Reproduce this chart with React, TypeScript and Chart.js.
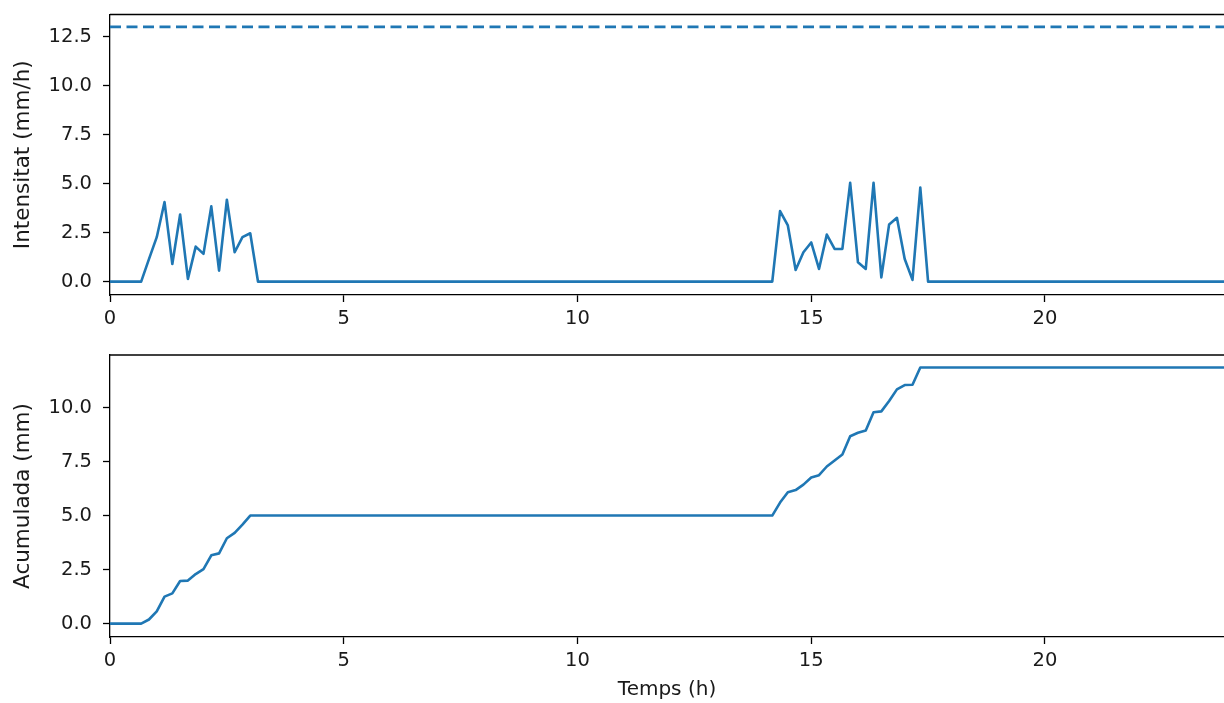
import React, { useEffect, useRef } from "react";
import { Chart, registerables } from "chart.js";

Chart.register(...registerables);

// Time in minutes since 00:00 (breakpoints of the 10-minute series)
const timeMinutes = [
  0, 40, 50, 60, 70, 80, 90, 100, 110, 120, 130, 140, 150, 160, 170, 180, 190,
  850, 860, 870, 880, 890, 900, 910, 920, 930, 940, 950, 960, 970, 980, 990, 1000, 1010, 1020, 1030, 1040, 1050,
  1440,
];

// Intensity (mm/h)
const intensityValues = [
  0, 0, 1.15, 2.27, 4.06, 0.9, 3.43, 0.14, 1.79, 1.42, 3.84, 0.56, 4.18, 1.5, 2.27, 2.47, 0,
  0, 3.6, 2.87, 0.6, 1.5, 2.0, 0.65, 2.4, 1.67, 1.67, 5.04, 0.99, 0.65, 5.04, 0.22, 2.92, 3.26, 1.16, 0.09, 4.8, 0,
  0,
];

// Accumulated rainfall (mm)
const accumulatedValues = [
  0, 0, 0.19, 0.57, 1.25, 1.4, 1.97, 1.99, 2.29, 2.52, 3.16, 3.25, 3.95, 4.2, 4.58, 5.0, 5.0,
  5.0, 5.6, 6.08, 6.18, 6.43, 6.76, 6.87, 7.27, 7.55, 7.83, 8.67, 8.83, 8.94, 9.78, 9.82, 10.3, 10.84, 11.04, 11.05, 11.85, 11.85,
  11.85,
];

// Threshold line (mm/h)
const thresholdTimes = [0, 24];
const thresholdValues = [13, 13];

const xTicks = [0, 5, 10, 15, 20];
const intensityTicks = [0, 2.5, 5, 7.5, 10, 12.5];
const accumulatedTicks = [0, 2.5, 5, 7.5, 10];

const BLUE = "#1f77b4";
const TICK_FONT = { family: "'DejaVu Sans', sans-serif", size: 19.5 };
const XLABEL_FONT = { family: "'DejaVu Sans', sans-serif", size: 20 };
const YLABEL_FONT = { family: "'DejaVu Sans', sans-serif", size: 21.5 };
const TEXT = "#1a1a1a";

const frameTop = {
  id: "frameTop",
  afterDraw(chart: any) {
    const { ctx, chartArea } = chart;
    ctx.save();
    ctx.strokeStyle = "#000";
    ctx.lineWidth = 1.3;
    ctx.beginPath();
    ctx.moveTo(chartArea.left, chartArea.top);
    ctx.lineTo(chartArea.right, chartArea.top);
    ctx.stroke();
    ctx.restore();
  },
};

function makeOptions(opts: {
  yMin: number;
  yMax: number;
  yTicks: number[];
  yTitle: string;
  xTitle?: string;
  xAxisHeight: number;
  padTop: number;
}) {
  return {
    responsive: false,
    animation: false as const,
    layout: { padding: { top: opts.padTop, left: 0, right: 0, bottom: 0 } },
    plugins: { legend: { display: false }, tooltip: { enabled: false } },
    scales: {
      x: {
        type: "linear" as const,
        min: 0,
        max: 23.83,
        afterBuildTicks: (scale: any) => {
          scale.ticks = xTicks.map((v) => ({ value: v }));
        },
        afterFit: (scale: any) => {
          scale.height = opts.xAxisHeight;
          scale.paddingLeft = 0;
          scale.paddingRight = 0;
        },
        grid: {
          display: true,
          drawOnChartArea: false,
          drawTicks: true,
          tickLength: 7,
          tickWidth: 1.3,
          tickColor: "#000",
        },
        border: { display: true, color: "#000", width: 1.3 },
        ticks: {
          color: TEXT,
          font: TICK_FONT,
          padding: 5,
          maxRotation: 0,
          callback: (v: any) => String(v),
        },
        title: opts.xTitle
          ? { display: true, text: opts.xTitle, color: TEXT, font: XLABEL_FONT, padding: { top: 0, bottom: 1 } }
          : { display: false },
      },
      y: {
        type: "linear" as const,
        min: opts.yMin,
        max: opts.yMax,
        afterBuildTicks: (scale: any) => {
          scale.ticks = opts.yTicks.map((v) => ({ value: v }));
        },
        afterFit: (scale: any) => {
          scale.width = 110;
          scale.paddingTop = 0;
          scale.paddingBottom = 0;
        },
        grid: {
          display: true,
          drawOnChartArea: false,
          drawTicks: true,
          tickLength: 7,
          tickWidth: 1.3,
          tickColor: "#000",
        },
        border: { display: true, color: "#000", width: 1.3 },
        ticks: {
          color: TEXT,
          font: TICK_FONT,
          padding: 11,
          callback: (v: any) => Number(v).toFixed(1),
        },
        title: { display: true, text: opts.yTitle, color: TEXT, font: YLABEL_FONT, padding: { top: 11, bottom: 0 } },
      },
    },
  };
}

export default function App() {
  const topRef = useRef<HTMLCanvasElement>(null);
  const botRef = useRef<HTMLCanvasElement>(null);

  useEffect(() => {
    const intensityData = timeMinutes.map((t, i) => ({ x: t / 60, y: intensityValues[i] }));
    const accumulatedData = timeMinutes.map((t, i) => ({ x: t / 60, y: accumulatedValues[i] }));
    const thresholdData = thresholdTimes.map((t, i) => ({ x: t, y: thresholdValues[i] }));

    const top = new Chart(topRef.current as HTMLCanvasElement, {
      type: "line",
      data: {
        datasets: [
          {
            data: intensityData,
            borderColor: BLUE,
            borderWidth: 2.6,
            pointRadius: 0,
            tension: 0,
            borderJoinStyle: "round",
          },
          {
            data: thresholdData,
            borderColor: BLUE,
            borderWidth: 2.6,
            borderDash: [11, 5.5],
            pointRadius: 0,
            tension: 0,
          },
        ],
      },
      options: makeOptions({
        yMin: -0.68,
        yMax: 13.63,
        yTicks: intensityTicks,
        yTitle: "Intensitat (mm/h)",
        xAxisHeight: 45,
        padTop: 14.5,
      }) as any,
      plugins: [frameTop],
    });

    const bot = new Chart(botRef.current as HTMLCanvasElement, {
      type: "line",
      data: {
        datasets: [
          {
            data: accumulatedData,
            borderColor: BLUE,
            borderWidth: 2.6,
            pointRadius: 0,
            tension: 0,
            borderJoinStyle: "round",
          },
        ],
      },
      options: makeOptions({
        yMin: -0.62,
        yMax: 12.43,
        yTicks: accumulatedTicks,
        yTitle: "Acumulada (mm)",
        xTitle: "Temps (h)",
        xAxisHeight: 66,
        padTop: 15,
      }) as any,
      plugins: [frameTop],
    });

    return () => {
      top.destroy();
      bot.destroy();
    };
  }, []);

  return (
    <div
      style={{
        position: "absolute",
        left: 0,
        top: 0,
        width: 1224,
        height: 703,
        background: "#fff",
        overflow: "hidden",
      }}
    >
      <canvas ref={topRef} width={1224} height={340} style={{ display: "block", position: "absolute", left: 0, top: 0 }} />
      <canvas ref={botRef} width={1224} height={363} style={{ display: "block", position: "absolute", left: 0, top: 340 }} />
    </div>
  );
}
